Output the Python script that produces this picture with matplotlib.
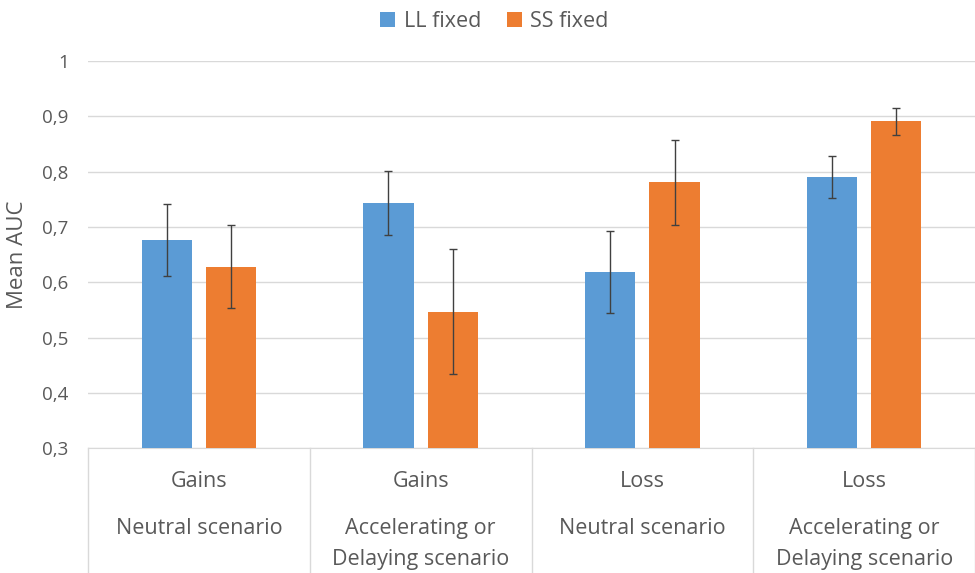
import matplotlib.pyplot as plt
import numpy as np
from matplotlib.ticker import FuncFormatter

plt.rcParams['font.family'] = ['Open Sans', 'DejaVu Sans']

# data
conditions = ["Gains", "Gains", "Loss", "Loss"]
scenarios = [["Neutral scenario"],
             ["Accelerating or", "Delaying scenario"],
             ["Neutral scenario"],
             ["Accelerating or", "Delaying scenario"]]
ll_fixed = [0.676, 0.743, 0.619, 0.791]
ll_err = [0.065, 0.058, 0.074, 0.038]
ss_fixed = [0.628, 0.547, 0.781, 0.891]
ss_err = [0.075, 0.113, 0.077, 0.024]

blue = "#5B9BD5"
orange = "#ED7D31"
text_col = "#595959"
grid_col = "#D9D9D9"

fig = plt.figure(figsize=(9.75, 5.73), dpi=100)
ax = fig.add_axes([0.0903, 0.2176, 0.9097, 0.6759])

x = np.arange(len(conditions))
w = 0.227
off = 0.145
err_kw = dict(ecolor="#404040", elinewidth=1, capsize=3, capthick=1)
ax.bar(x - off, ll_fixed, w, yerr=ll_err, color=blue, label="LL fixed",
       error_kw=err_kw, zorder=3)
ax.bar(x + off, ss_fixed, w, yerr=ss_err, color=orange, label="SS fixed",
       error_kw=err_kw, zorder=3)

ax.set_xlim(-0.5, len(conditions) - 0.5)
ax.set_ylim(0.3, 1.0)
ax.set_yticks(np.arange(0.3, 1.01, 0.1))
ax.yaxis.set_major_formatter(FuncFormatter(
    lambda v, p: ("%g" % round(v, 1)).replace(".", ",")))
ax.tick_params(axis="y", length=0, pad=14, labelsize=13.5, labelcolor=text_col)
ax.set_xticks([])
ax.grid(axis="y", color=grid_col, linewidth=1, zorder=0)
for s in ["top", "right", "left"]:
    ax.spines[s].set_visible(False)
ax.spines["bottom"].set_color(grid_col)
ax.set_ylabel("Mean AUC", fontsize=16, color=text_col, labelpad=10)

# category table under the axis
trans = ax.get_xaxis_transform()
for b in np.arange(-0.5, len(conditions), 1.0):
    ax.plot([b, b], [0, -0.33], color=grid_col, lw=1, transform=trans,
            clip_on=False)
for i, (c, sc) in enumerate(zip(conditions, scenarios)):
    ax.text(i, -0.086, c, ha="center", va="center", fontsize=15.5,
            color=text_col, transform=trans)
    for j, line in enumerate(sc):
        ax.text(i, -0.206 - j * 0.082, line, ha="center", va="center",
                fontsize=15.5, color=text_col, transform=trans)

fig.legend(loc="center", bbox_to_anchor=(0.507, 0.962), ncol=2,
           frameon=False, fontsize=15.5, handlelength=0.7, handleheight=0.7,
           columnspacing=1.2, handletextpad=0.4, labelcolor=text_col)

fig.savefig("out.png", dpi=100)
